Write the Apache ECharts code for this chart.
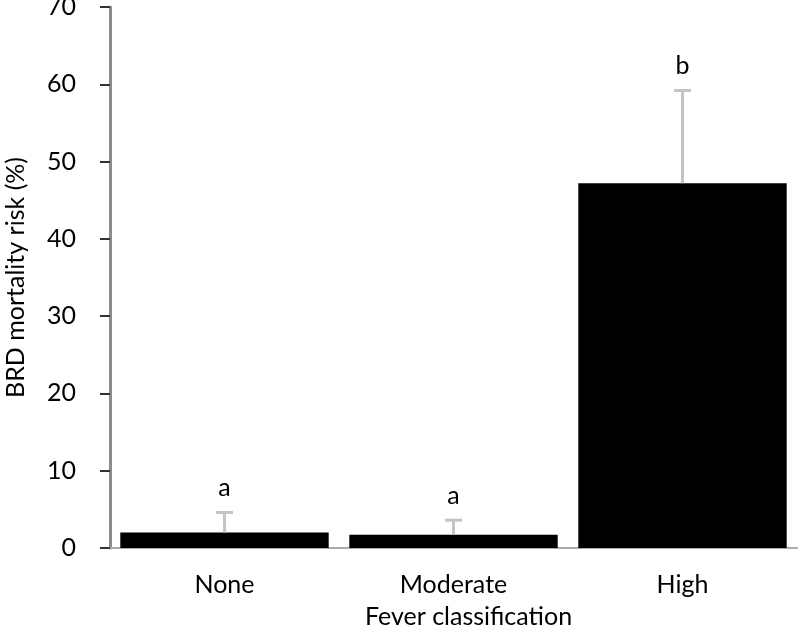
<!DOCTYPE html>
<html>
<head>
<meta charset="utf-8">
<script src="https://cdn.jsdelivr.net/npm/echarts@6/dist/echarts.min.js"></script>
<style>
  html, body { margin: 0; padding: 0; background: #fff; }
  #chart { width: 800px; height: 632px; }
</style>
</head>
<body>
<div id="chart"></div>
<script>
// 数据
var categories = ['None', 'Moderate', 'High'];
var mortality = [2.0, 1.7, 47.2];
var errors = [2.6, 1.9, 12.0];
var letters = ['a', 'a', 'b'];

var font = 'Lato, "Open Sans", sans-serif';
var chart = echarts.init(document.getElementById('chart'));

var option = {
  animation: false,
  grid: { left: 110, right: 3, top: 7, bottom: 84, outerBoundsMode: 'none' },
  xAxis: {
    type: 'category',
    data: categories,
    name: 'Fever classification',
    nameLocation: 'middle',
    nameGap: 56,
    nameTextStyle: { fontFamily: font, fontSize: 25, color: '#000', padding: [0, 0, 0, 30] },
    axisLine: { lineStyle: { color: '#aaa', width: 2 } },
    axisTick: { show: false },
    axisLabel: { fontFamily: font, fontSize: 25, color: '#000', margin: 24 }
  },
  yAxis: {
    type: 'value',
    min: 0,
    max: 70,
    interval: 10,
    name: 'BRD mortality risk (%)',
    nameLocation: 'middle',
    nameGap: 82,
    nameTextStyle: { fontFamily: font, fontSize: 25, color: '#000' },
    axisLine: { show: true, lineStyle: { color: '#8c8c8c', width: 3 } },
    axisTick: { show: true, length: 10, lineStyle: { color: '#333', width: 2 } },
    axisLabel: { fontFamily: font, fontSize: 25, color: '#000', margin: 34 },
    splitLine: { show: false }
  },
  series: [
    {
      type: 'bar',
      data: mortality,
      barCategoryGap: '9%',
      itemStyle: { color: '#000' },
      z: 2
    },
    {
      // 误差线（只画上半部分）+ 字母
      type: 'custom',
      data: mortality.map(function (v, i) { return [i, v, v + errors[i]]; }),
      renderItem: function (params, api) {
        var low = api.coord([api.value(0), api.value(1)]);
        var high = api.coord([api.value(0), api.value(2)]);
        var half = 8.5;
        var style = { stroke: '#c4c4c4', lineWidth: 3 };
        return {
          type: 'group',
          children: [
            { type: 'line', shape: { x1: low[0], y1: low[1], x2: high[0], y2: high[1] }, style: style },
            { type: 'line', shape: { x1: high[0] - half, y1: high[1], x2: high[0] + half, y2: high[1] }, style: style },
            {
              type: 'text',
              x: high[0],
              y: high[1] - 12,
              style: {
                text: letters[params.dataIndex],
                fontFamily: font,
                fontSize: 25,
                fill: '#000',
                align: 'center',
                verticalAlign: 'bottom'
              }
            }
          ]
        };
      },
      z: 3
    }
  ]
};
chart.setOption(option);
</script>
</body>
</html>
